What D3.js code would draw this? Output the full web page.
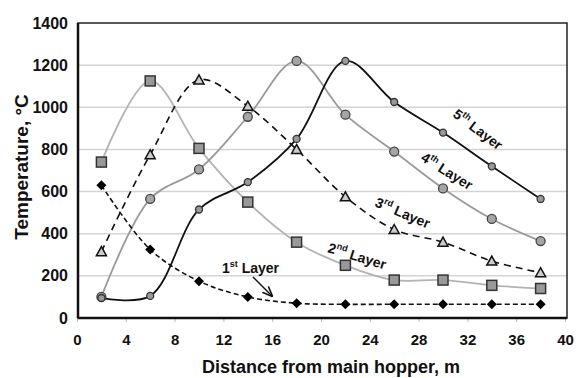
<!DOCTYPE html>
<html><head><meta charset="utf-8">
<script src="https://cdn.jsdelivr.net/npm/d3@7"></script>
<style>body{margin:0;background:#fff}svg{display:block}text{font-family:"Liberation Sans",Arial,sans-serif;font-weight:bold}</style>
</head><body>
<svg id="c" width="576" height="378"></svg>
<script>
const distances = [2, 6, 10, 14, 18, 22, 26, 30, 34, 38];
const layer1 = [630, 325, 175, 100, 70, 65, 65, 65, 65, 65];
const layer2 = [740, 1125, 805, 550, 360, 250, 180, 180, 155, 140];
const layer3 = [315, 775, 1130, 1005, 800, 575, 420, 360, 270, 215];
const layer4 = [100, 565, 705, 955, 1220, 965, 790, 615, 470, 365];
const layer5 = [95, 105, 515, 645, 850, 1220, 1025, 880, 720, 565];
const xTicks = [0, 4, 8, 12, 16, 20, 24, 28, 32, 36, 40];
const yTicks = [0, 200, 400, 600, 800, 1000, 1200, 1400];

const svg = d3.select("#c");
const L = 78, R = 567, T = 23, B = 318;
const x = d3.scaleLinear().domain([0, 40]).range([L - 1, 565]);
const y = d3.scaleLinear().domain([0, 1400]).range([B, T]);

// grid
svg.append("g").selectAll("line").data(yTicks.filter(d => d > 0 && d < 1400)).join("line")
  .attr("x1", L).attr("x2", R).attr("y1", d => y(d)).attr("y2", d => y(d))
  .attr("stroke", "#d4d4d4").attr("stroke-width", 1.5);

// axes
const yAxis = d3.axisLeft(y).tickValues(yTicks).tickFormat(d3.format("d")).tickSize(0).tickPadding(10);
const gy = svg.append("g").attr("transform", `translate(${L},0)`).call(yAxis);
gy.select(".domain").remove();
gy.selectAll("text").attr("font-size", 16).attr("fill", "#111");

const xAxis = d3.axisBottom(x).tickValues(xTicks).tickFormat(d3.format("d")).tickSize(4).tickPadding(12);
const gx = svg.append("g").attr("transform", `translate(0,${B})`).call(xAxis);
gx.select(".domain").remove();
gx.selectAll("line").attr("stroke", "#bbb");
gx.selectAll("text").attr("font-size", 15).attr("fill", "#111");

// frame
svg.append("rect").attr("x", L).attr("y", T).attr("width", R - L).attr("height", B - T)
  .attr("fill", "none").attr("stroke", "#222").attr("stroke-width", 1.5);
svg.append("line").attr("x1", L).attr("x2", L).attr("y1", T).attr("y2", B).attr("stroke", "#111").attr("stroke-width", 2.5);
svg.append("line").attr("x1", L).attr("x2", R).attr("y1", B).attr("y2", B).attr("stroke", "#111").attr("stroke-width", 2.5);

// titles
svg.append("text").attr("x", 331).attr("y", 373).attr("text-anchor", "middle")
  .attr("font-size", 18).attr("fill", "#111").text("Distance from main hopper, m");
svg.append("text").attr("transform", "translate(28,167) rotate(-90)").attr("text-anchor", "middle")
  .attr("font-size", 19).attr("fill", "#111").text("Temperature, °C");

const line = d3.line().x((d, i) => x(distances[i])).y(d => y(d)).curve(d3.curveCatmullRom.alpha(0.5));

const series = [
  {v: layer2, color: "#b3b3b3", w: 1.8, dash: null},
  {v: layer4, color: "#9a9a9a", w: 1.8, dash: null},
  {v: layer5, color: "#111", w: 1.8, dash: null},
  {v: layer3, color: "#111", w: 1.6, dash: "7,5"},
  {v: layer1, color: "#111", w: 1.6, dash: "5,3"}
];
series.forEach(s => {
  svg.append("path").attr("d", line(s.v)).attr("fill", "none").attr("stroke", s.color)
    .attr("stroke-width", s.w).attr("stroke-dasharray", s.dash);
});

// markers
const pts = v => v.map((d, i) => [x(distances[i]), y(d)]);
svg.append("g").selectAll("path").data(pts(layer1)).join("path")
  .attr("transform", d => `translate(${d[0]},${d[1]})`)
  .attr("d", "M0,-5L5,0L0,5L-5,0Z").attr("fill", "#000");
svg.append("g").selectAll("rect").data(pts(layer2)).join("rect")
  .attr("x", d => d[0] - 5).attr("y", d => d[1] - 5).attr("width", 10).attr("height", 10)
  .attr("fill", "#999").attr("stroke", "#333").attr("stroke-width", 1.5);
svg.append("g").selectAll("path").data(pts(layer3)).join("path")
  .attr("transform", d => `translate(${d[0]},${d[1]})`)
  .attr("d", "M0,-5L5,4L-5,4Z").attr("fill", "#ccc").attr("stroke", "#111").attr("stroke-width", 1.5);
svg.append("g").selectAll("circle").data(pts(layer4)).join("circle")
  .attr("cx", d => d[0]).attr("cy", d => d[1]).attr("r", 4.5)
  .attr("fill", "#a5a5a5").attr("stroke", "#444").attr("stroke-width", 1.3);
svg.append("g").selectAll("circle").data(pts(layer5)).join("circle")
  .attr("cx", d => d[0]).attr("cy", d => d[1]).attr("r", 3.5)
  .attr("fill", "#999").attr("stroke", "#333").attr("stroke-width", 1.3);

// labels
function label(px, py, ang, num, sup) {
  const t = svg.append("text").attr("transform", `translate(${px},${py}) rotate(${ang})`)
    .attr("font-size", 14).attr("fill", "#111");
  t.append("tspan").text(num);
  t.append("tspan").attr("font-size", 9).attr("dy", -6).text(sup);
  t.append("tspan").attr("dy", 6).text(" Layer");
}
label(222, 273, 0, "1", "st");
label(327, 252, 17, "2", "nd");
label(374, 206, 23, "3", "rd");
label(420, 160, 32, "4", "th");
label(452, 116, 37, "5", "th");

// arrow
svg.append("defs").append("marker").attr("id", "ah").attr("viewBox", "0 0 10 10")
  .attr("refX", 9).attr("refY", 5).attr("markerWidth", 7).attr("markerHeight", 7).attr("orient", "auto")
  .append("path").attr("d", "M0,1L10,5L0,9").attr("fill", "none").attr("stroke", "#111").attr("stroke-width", 1.5);
svg.append("line").attr("x1", 253).attr("y1", 277).attr("x2", 272).attr("y2", 296)
  .attr("stroke", "#111").attr("stroke-width", 1.5).attr("marker-end", "url(#ah)");
</script>
</body></html>
